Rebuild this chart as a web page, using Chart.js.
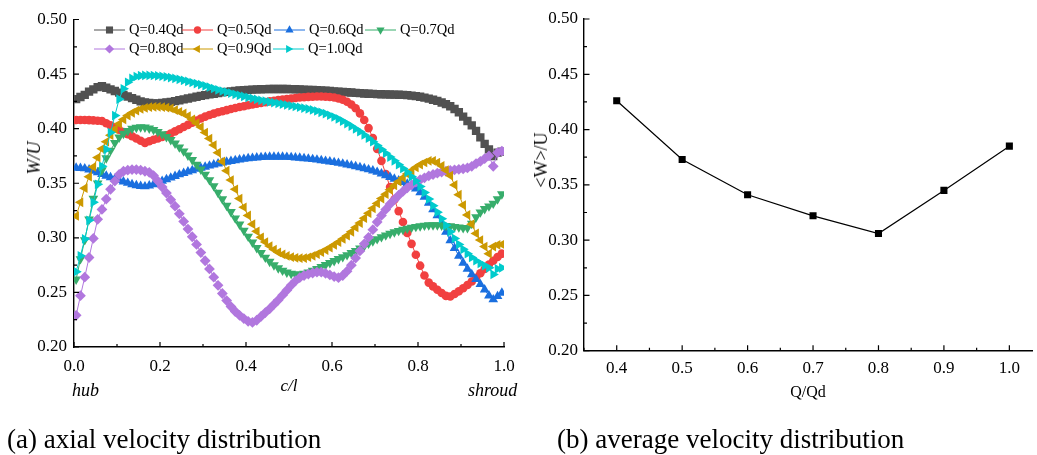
<!DOCTYPE html>
<html><head><meta charset="utf-8">
<script src="https://cdn.jsdelivr.net/npm/chart.js@4/dist/chart.umd.min.js"></script>
<style>
html,body{margin:0;padding:0;background:#fff;}
#wrap{position:relative;width:1037px;height:455px;overflow:hidden;font-family:"Liberation Serif","Times New Roman",serif;color:#000;}
canvas{position:absolute;top:0;}
.t{position:absolute;white-space:nowrap;line-height:1;}
.rot{transform:translate(-50%,-50%) rotate(-90deg);}
</style></head><body>
<div id="wrap">
<canvas id="c1" width="540" height="455" style="left:0;width:540px;height:455px"></canvas>
<canvas id="c2" width="517" height="455" style="left:520px;width:517px;height:455px"></canvas>
<div class="t rot" style="left:34px;top:158px;font-size:18px;font-style:italic;">W/U</div>
<div class="t rot" style="left:541px;top:160px;font-size:18px;">&lt;W&gt;/U</div>
<div class="t" style="left:72px;top:381px;font-size:18px;font-style:italic;">hub</div>
<div class="t" style="left:468px;top:381px;font-size:18px;font-style:italic;">shroud</div>
<div class="t" style="left:7px;top:426px;font-size:27px;">(a) axial velocity distribution</div>
<div class="t" style="left:557px;top:426px;font-size:27px;">(b) average velocity distribution</div>
</div>
<script>
// ---- data: axial velocity along c/l (left panel) ----
const cPos = [0.005,0.015,0.025,0.035,0.045,0.055,0.065,0.075,0.085,0.095,
0.105,0.115,0.125,0.135,0.145,0.155,0.165,0.175,0.185,0.195,
0.205,0.215,0.225,0.235,0.245,0.255,0.265,0.275,0.285,0.295,
0.305,0.315,0.325,0.335,0.345,0.355,0.365,0.375,0.385,0.395,
0.405,0.415,0.425,0.435,0.445,0.455,0.465,0.475,0.485,0.495,
0.505,0.515,0.525,0.535,0.545,0.555,0.565,0.575,0.585,0.595,
0.605,0.615,0.625,0.635,0.645,0.655,0.665,0.675,0.685,0.695,
0.705,0.715,0.725,0.735,0.745,0.755,0.765,0.775,0.785,0.795,
0.805,0.815,0.825,0.835,0.845,0.855,0.865,0.875,0.885,0.895,
0.905,0.915,0.925,0.935,0.945,0.955,0.965,0.975,0.985,0.995];

const q04 = [0.427,0.429,0.431,0.434,0.436,0.438,0.439,0.4375,0.436,0.4345,
0.433,0.431,0.4295,0.428,0.4265,0.425,0.424,0.4235,0.4232,0.4232,
0.4235,0.424,0.4245,0.4252,0.426,0.4268,0.4276,0.4284,0.4292,0.43,
0.4307,0.4314,0.432,0.4326,0.4332,0.4337,0.4342,0.4346,0.435,0.4353,
0.4356,0.4358,0.436,0.4361,0.4362,0.4363,0.4363,0.4363,0.4363,0.4363,
0.4362,0.4361,0.436,0.4358,0.4356,0.4354,0.4352,0.435,0.4347,0.4345,
0.4342,0.434,0.4337,0.4334,0.4331,0.4328,0.4325,0.4322,0.432,0.4318,
0.4316,0.4315,0.4314,0.4313,0.4312,0.4311,0.431,0.4307,0.4303,0.4298,
0.4292,0.4285,0.4275,0.4265,0.4255,0.424,0.4225,0.4205,0.418,0.415,
0.411,0.407,0.403,0.398,0.392,0.386,0.381,0.375,0.378,0.379];

const q05 = [0.408,0.408,0.408,0.4078,0.4076,0.4073,0.407,0.405,0.403,0.401,
0.399,0.397,0.395,0.393,0.391,0.389,0.387,0.3885,0.3898,0.391,
0.3925,0.394,0.3955,0.3975,0.3995,0.4015,0.4035,0.4055,0.4075,0.4093,
0.411,0.4125,0.4138,0.415,0.416,0.417,0.418,0.419,0.4198,0.4206,
0.4214,0.4222,0.4229,0.4236,0.4243,0.425,0.4256,0.4262,0.4267,0.4272,
0.4277,0.4281,0.4285,0.4288,0.4291,0.4293,0.4294,0.4294,0.4293,0.429,
0.4285,0.4277,0.4265,0.4247,0.4222,0.4187,0.414,0.408,0.4005,0.3915,
0.3815,0.3705,0.3585,0.3465,0.335,0.3245,0.3145,0.3045,0.2945,0.2845,
0.2745,0.2655,0.259,0.2555,0.2525,0.2495,0.2468,0.2462,0.2485,0.251,
0.2538,0.2568,0.26,0.2635,0.2675,0.2715,0.2755,0.279,0.2825,0.2855];

const q06 = [0.364,0.3638,0.3635,0.3625,0.3612,0.3598,0.3583,0.3568,0.3553,0.354,
0.3527,0.3514,0.3502,0.349,0.348,0.3473,0.347,0.3478,0.349,0.3505,
0.352,0.3535,0.355,0.3565,0.358,0.3593,0.3606,0.3618,0.363,0.364,
0.365,0.366,0.367,0.368,0.3688,0.3696,0.3703,0.371,0.3716,0.3722,
0.3727,0.3731,0.3735,0.3738,0.374,0.3741,0.3742,0.3742,0.3741,0.374,
0.3738,0.3735,0.3732,0.3728,0.3724,0.372,0.3715,0.371,0.3704,0.3698,
0.3692,0.3685,0.3678,0.367,0.3662,0.3654,0.3645,0.3636,0.3626,0.3616,
0.3603,0.3588,0.3572,0.3556,0.354,0.3525,0.351,0.3495,0.3478,0.345,
0.3415,0.3375,0.332,0.326,0.3205,0.3135,0.3055,0.2975,0.2905,0.2835,
0.277,0.2715,0.2665,0.262,0.2575,0.2525,0.247,0.2435,0.2465,0.2495];

const q07 = [0.262,0.2806,0.298,0.317,0.336,0.35,0.362,0.373,0.38,0.387,
0.392,0.3955,0.398,0.4,0.401,0.4015,0.4012,0.4003,0.399,0.3972,
0.395,0.3925,0.3897,0.3865,0.383,0.3793,0.3755,0.3715,0.3672,0.3627,
0.358,0.353,0.3475,0.3415,0.3355,0.3295,0.3238,0.318,0.3123,0.3067,
0.3012,0.2958,0.2908,0.2862,0.282,0.2782,0.275,0.2723,0.2701,0.2684,
0.2672,0.2665,0.2665,0.2672,0.2685,0.27,0.2717,0.2735,0.2753,0.2771,
0.2789,0.2807,0.2825,0.2843,0.2862,0.2882,0.2903,0.2925,0.2948,0.297,
0.299,0.3008,0.3024,0.3039,0.3053,0.3065,0.3076,0.3086,0.3095,0.3102,
0.3108,0.3113,0.3116,0.3117,0.3116,0.3114,0.3111,0.3107,0.3102,0.3097,
0.3092,0.309,0.313,0.319,0.3235,0.3265,0.329,0.3315,0.3355,0.34];

const q08 = [0.229,0.247,0.264,0.282,0.2995,0.317,0.326,0.3355,0.3445,0.352,
0.358,0.361,0.362,0.3625,0.3625,0.362,0.361,0.36,0.357,0.352,
0.3465,0.341,0.335,0.329,0.322,0.315,0.308,0.301,0.294,0.2865,
0.279,0.2715,0.264,0.2565,0.249,0.2425,0.237,0.2325,0.229,0.226,
0.2235,0.2225,0.2245,0.228,0.2315,0.235,0.239,0.243,0.2475,0.252,
0.2565,0.2605,0.2635,0.2655,0.2668,0.2678,0.2685,0.2685,0.2675,0.266,
0.2645,0.2635,0.2655,0.2695,0.275,0.2815,0.288,0.2945,0.3005,0.3075,
0.3145,0.3205,0.326,0.331,0.335,0.339,0.3425,0.3458,0.3485,0.351,
0.3532,0.355,0.3567,0.358,0.3592,0.3602,0.361,0.3617,0.3623,0.3628,
0.3633,0.364,0.3655,0.368,0.37,0.3725,0.375,0.3655,0.378,0.3795];

const q09 = [0.32,0.3325,0.3455,0.356,0.365,0.3735,0.3815,0.388,0.394,0.3995,
0.4045,0.4085,0.412,0.4145,0.4165,0.418,0.419,0.4197,0.42,0.42,
0.4198,0.4193,0.4185,0.417,0.4155,0.414,0.4115,0.4085,0.405,0.4015,
0.3965,0.391,0.385,0.378,0.37,0.3615,0.353,0.3445,0.336,0.328,
0.3205,0.3125,0.306,0.3005,0.2962,0.2925,0.2893,0.2867,0.2848,0.2834,
0.2824,0.2817,0.2814,0.2815,0.2822,0.2835,0.285,0.2868,0.2888,0.291,
0.2935,0.296,0.299,0.302,0.3055,0.3095,0.3135,0.318,0.3225,0.327,
0.3315,0.336,0.34,0.344,0.348,0.3515,0.355,0.3585,0.3615,0.3645,
0.367,0.369,0.3705,0.3705,0.369,0.366,0.362,0.357,0.3485,0.3395,
0.33,0.321,0.3125,0.304,0.298,0.292,0.2855,0.292,0.2935,0.294];

const q10 = [0.269,0.2835,0.299,0.316,0.3325,0.349,0.3655,0.381,0.3965,0.412,
0.427,0.4365,0.4425,0.446,0.4478,0.4485,0.4488,0.4488,0.4487,0.4484,
0.448,0.4475,0.4468,0.446,0.4452,0.4443,0.4433,0.4423,0.4413,0.4403,
0.4392,0.438,0.4368,0.4356,0.4345,0.4335,0.4325,0.4315,0.4305,0.4295,
0.4286,0.4277,0.4268,0.426,0.4252,0.4245,0.4238,0.4231,0.4224,0.4217,
0.421,0.4203,0.4196,0.4189,0.4181,0.4172,0.4162,0.415,0.4137,0.4123,
0.4107,0.4089,0.4069,0.4047,0.4023,0.3998,0.3972,0.3943,0.3912,0.388,
0.3845,0.381,0.3775,0.374,0.3705,0.367,0.3635,0.36,0.356,0.352,
0.347,0.3415,0.3355,0.3295,0.3235,0.3175,0.3115,0.3055,0.2995,0.294,
0.2895,0.2855,0.282,0.279,0.2765,0.2745,0.2725,0.2665,0.2715,0.2725];

const seriesLabels = ['Q=0.4Qd','Q=0.5Qd','Q=0.6Qd','Q=0.7Qd','Q=0.8Qd','Q=0.9Qd','Q=1.0Qd'];

// ---- data: average velocity vs flow rate (right panel) ----
const qRatio = [0.4,0.5,0.6,0.7,0.8,0.9,1.0];
const avgW = [0.426,0.373,0.341,0.322,0.306,0.345,0.385];

// ---- tick values / labels ----
const yTicks = [0.20,0.25,0.30,0.35,0.40,0.45,0.50];
const yTickLabels = ['0.20','0.25','0.30','0.35','0.40','0.45','0.50'];
const yMinor = [0.225,0.275,0.325,0.375,0.425,0.475];
const xTicksA = [0.0,0.2,0.4,0.6,0.8,1.0];
const xTickLabelsA = ['0.0','0.2','0.4','0.6','0.8','1.0'];
const xMinorA = [0.1,0.3,0.5,0.7,0.9];
const xTicksB = [0.4,0.5,0.6,0.7,0.8,0.9,1.0];
const xTickLabelsB = ['0.4','0.5','0.6','0.7','0.8','0.9','1.0'];
const xMinorB = [0.35,0.45,0.55,0.65,0.75,0.85,0.95];

// ---- styles ----
const colors = ['#515151','#F14040','#1A6FDF','#37AD6B','#B177DE','#CC9900','#00CBCC'];
const styles = [
  {pointStyle:'rect', r:5.9, rot:0},
  {pointStyle:'circle', r:4.3, rot:0},
  {pointStyle:'triangle', r:5.6, rot:0},
  {pointStyle:'triangle', r:5.6, rot:180},
  {pointStyle:'rectRot', r:5.4, rot:0},
  {pointStyle:'triangle', r:5.6, rot:-90},
  {pointStyle:'triangle', r:5.6, rot:90}
];

Chart.defaults.font.family = '"Liberation Serif","Times New Roman",serif';
Chart.defaults.font.size = 17;
Chart.defaults.color = '#000';

const inTicks = {
  id: 'inTicks',
  afterDraw(chart, args, o) {
    const ctx = chart.ctx;
    const {left, bottom} = chart.chartArea;
    const xs = chart.scales.x, ys = chart.scales.y;
    ctx.save();
    ctx.strokeStyle = '#000';
    ctx.lineWidth = 1.2;
    ctx.beginPath();
    o.xMajor.forEach(v => { const p = xs.getPixelForValue(v); ctx.moveTo(p, bottom); ctx.lineTo(p, bottom - o.major); });
    o.xMinor.forEach(v => { const p = xs.getPixelForValue(v); ctx.moveTo(p, bottom); ctx.lineTo(p, bottom - o.minor); });
    o.yMajor.forEach(v => { const p = ys.getPixelForValue(v); ctx.moveTo(left, p); ctx.lineTo(left + o.major, p); });
    o.yMinor.forEach(v => { const p = ys.getPixelForValue(v); ctx.moveTo(left, p); ctx.lineTo(left + o.minor, p); });
    ctx.stroke();
    ctx.restore();
  }
};

const inLegend = {
  id: 'inLegend',
  afterDraw(chart, args, o) {
    if (!o.cols) return;
    const ctx = chart.ctx;
    ctx.save();
    ctx.font = '14.5px "Liberation Serif","Times New Roman",serif';
    ctx.textBaseline = 'middle';
    ctx.textAlign = 'left';
    chart.data.datasets.forEach((ds, i) => {
      const row = Math.floor(i / 4), col = i % 4;
      const x = o.cols[row][col], y = o.rows[row];
      ctx.strokeStyle = ds.borderColor;
      ctx.lineWidth = 1;
      ctx.beginPath(); ctx.moveTo(x, y); ctx.lineTo(x + 31, y); ctx.stroke();
      ctx.fillStyle = ds.pointBackgroundColor;
      Chart.helpers.drawPoint(ctx, {pointStyle: ds.pointStyle, rotation: ds.pointRotation || 0, radius: ds.pointRadius * 0.85, borderWidth: 0}, x + 15.5, y);
      ctx.fillStyle = '#000';
      ctx.fillText(ds.label, x + 35, y + 0.5);
    });
    ctx.restore();
  }
};

function axisCommon(min, max, ticks, labels, pad, extra) {
  return Object.assign({
    type: 'linear', min: min, max: max,
    afterBuildTicks: s => { s.ticks = ticks.map(v => ({value: v})); },
    ticks: { callback: (v, i) => labels[i], autoSkip: false, maxRotation: 0, color: '#000', font: {size: 17}, padding: pad },
    grid: { display: false, drawTicks: false, tickLength: 0 },
    border: { display: true, color: '#000', width: 1.4 }
  }, extra);
}

const datasetsA = [q04,q05,q06,q07,q08,q09,q10].map((arr, i) => ({
  label: seriesLabels[i],
  data: arr.map((v, k) => ({x: cPos[k], y: v})),
  borderColor: colors[i],
  backgroundColor: colors[i],
  pointBackgroundColor: colors[i],
  pointBorderWidth: 0,
  pointStyle: styles[i].pointStyle,
  pointRotation: styles[i].rot,
  pointRadius: styles[i].r,
  borderWidth: 1,
  order: 6 - i
}));

new Chart(document.getElementById('c1'), {
  type: 'line',
  data: { datasets: datasetsA },
  options: {
    responsive: false, animation: false, events: [],
    layout: { padding: { left: 0, top: 19.5, right: 36, bottom: 58 } },
    plugins: {
      legend: { display: false }, tooltip: { enabled: false },
      inTicks: { xMajor: xTicksA, xMinor: xMinorA, yMajor: yTicks, yMinor: yMinor, major: 5, minor: 3 },
      inLegend: { cols: [[94,182,274,365],[94,182,273]], rows: [30, 49] }
    },
    scales: {
      x: axisCommon(0, 1, xTicksA, xTickLabelsA, 9, {
        afterFit: s => { s.height = 50; },
        title: { display: true, text: 'c/l', color: '#000', font: {size: 17, style: 'italic'}, padding: {top: 0, bottom: 0} }
      }),
      y: axisCommon(0.2, 0.5, yTicks, yTickLabels, 7, {
        afterFit: s => { s.width = 74; }
      })
    }
  },
  plugins: [inTicks, inLegend]
});

new Chart(document.getElementById('c2'), {
  type: 'line',
  data: { datasets: [{
    label: '<W>/U',
    data: avgW.map((v, k) => ({x: qRatio[k], y: v})),
    borderColor: '#000', backgroundColor: '#000', pointBackgroundColor: '#000',
    pointBorderWidth: 0, pointStyle: 'rect', pointRadius: 5.0, borderWidth: 1.2
  }] },
  options: {
    responsive: false, animation: false, events: [],
    layout: { padding: { left: 0, top: 19, right: 0, bottom: 52.8 } },
    plugins: {
      legend: { display: false }, tooltip: { enabled: false },
      inTicks: { xMajor: xTicksB, xMinor: xMinorB, yMajor: yTicks, yMinor: yMinor, major: 5.5, minor: 3 }
    },
    scales: {
      x: axisCommon(0.35, 1.0346, xTicksB, xTickLabelsB, 8, {
        afterFit: s => { s.height = 51.5; },
        title: { display: true, text: 'Q/Qd', color: '#000', font: {size: 16}, padding: {top: 0, bottom: 0} }
      }),
      y: axisCommon(0.2, 0.5, yTicks, yTickLabels, 6, {
        afterFit: s => { s.width = 64; }
      })
    }
  },
  plugins: [inTicks]
});
</script>
</body></html>
